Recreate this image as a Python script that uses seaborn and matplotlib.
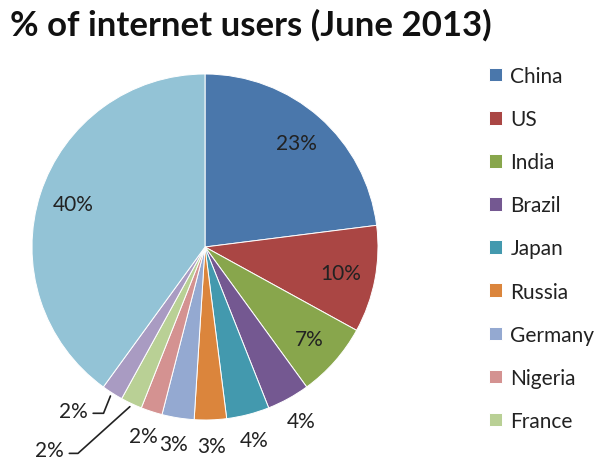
import matplotlib
matplotlib.use("Agg")
import matplotlib.pyplot as plt
import numpy as np
import seaborn as sns

countries = ["China", "US", "India", "Brazil", "Japan", "Russia",
             "Germany", "Nigeria", "France", "UK", "Others"]
shares = [23, 10, 7, 4, 4, 3, 3, 2, 2, 2, 40]
colors = ["#4A77AB", "#AA4644", "#88A64C", "#745891", "#4399AE", "#DB853C",
          "#94A9D1", "#D49291", "#B9D095", "#A99BC2", "#93C3D6"]
legend_count = 9

sns.set_style("white")
plt.rcParams["font.family"] = ["Lato", "DejaVu Sans"]

fig = plt.figure(figsize=(6, 4.6), dpi=100)
ax = fig.add_axes([32 / 600, 39 / 460, 346 / 600, 346 / 460])
palette = sns.color_palette(colors)

wedges, _ = ax.pie(shares, colors=palette, startangle=90, counterclock=False,
                   radius=1, wedgeprops=dict(edgecolor="white", linewidth=0.7))
ax.set_xlim(-1, 1)
ax.set_ylim(-1, 1)
ax.set_aspect("equal")
ax.axis("off")

fs = 15
ink = "#222222"
# label placement: inside for big slices, outside for small ones,
# leader lines for the two slices next to "Others"
for i, (w, v) in enumerate(zip(wedges, shares)):
    mid = np.deg2rad((w.theta1 + w.theta2) / 2)
    c, s = np.cos(mid), np.sin(mid)
    txt = f"{v}%"
    if v >= 7 or i == len(shares) - 1:
        ax.text(0.8 * c, 0.8 * s, txt, ha="center", va="center", fontsize=fs, color=ink)
    elif i == 9:
        x0, y0 = 1.02 * c, 1.02 * s
        ax.plot([x0, x0 - 0.04, x0 - 0.1], [y0, y0 - 0.1, y0 - 0.1], color=ink, lw=1.2,
                clip_on=False)
        ax.text(x0 - 0.13, y0 - 0.085, txt, ha="right", va="center", fontsize=fs, color=ink)
    elif i == 8:
        x0, y0 = 1.02 * c, 1.02 * s
        ax.plot([x0, x0 - 0.3, x0 - 0.35], [y0, y0 - 0.27, y0 - 0.27], color=ink, lw=1.2,
                clip_on=False)
        ax.text(x0 - 0.38, y0 - 0.25, txt, ha="right", va="center", fontsize=fs, color=ink)
    else:
        ax.text(1.15 * c, 1.15 * s, txt, ha="center", va="center", fontsize=fs, color=ink)

fig.text(10 / 600, 1 - 25 / 460, "% of internet users (June 2013)", fontsize=25,
         fontweight="bold", ha="left", va="center", color="#111111")

leg = fig.legend(wedges[:legend_count], countries[:legend_count], loc="upper left",
                 bbox_to_anchor=(489 / 600, 1 - 67 / 460), frameon=False, fontsize=fs,
                 handlelength=0.63, handleheight=0.63, handletextpad=0.4,
                 labelspacing=1.11, borderpad=0, borderaxespad=0)
for t in leg.get_texts():
    t.set_color(ink)

fig.savefig("out.png", dpi=100)
